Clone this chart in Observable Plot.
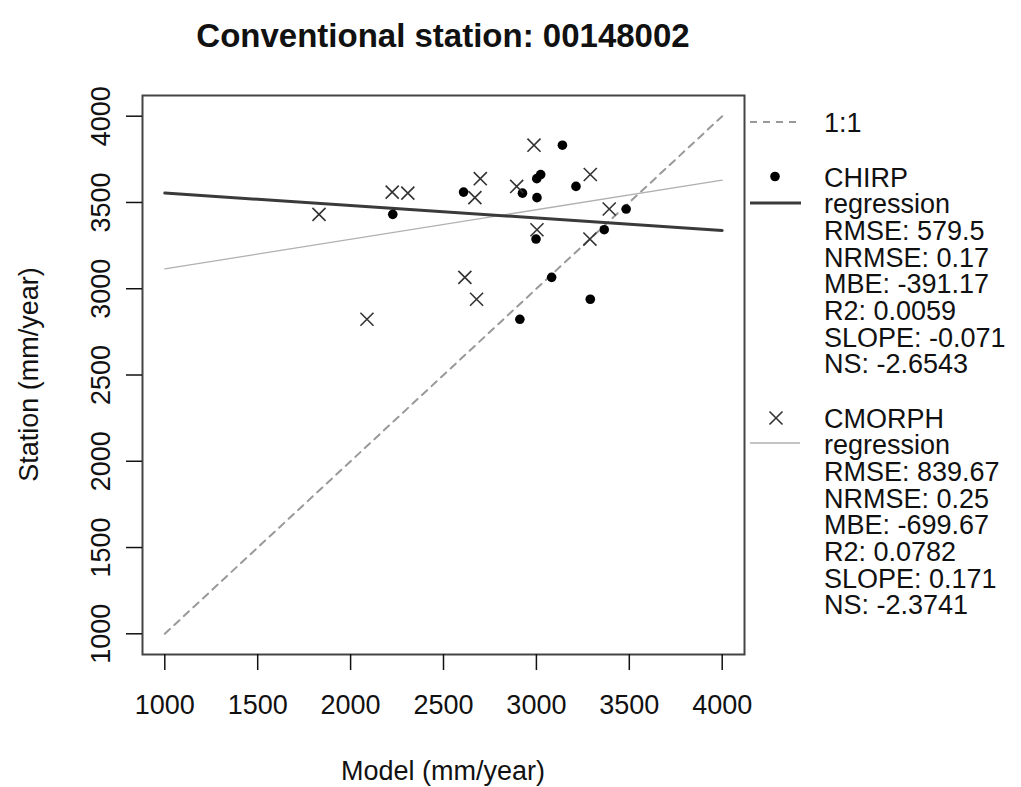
<!DOCTYPE html>
<html><head><meta charset="utf-8">
<script src="https://cdn.jsdelivr.net/npm/d3@7"></script>
<script src="https://cdn.jsdelivr.net/npm/@observablehq/plot@0.6"></script>
<style>
body{margin:0;background:#fff;}
#wrap{position:relative;width:1021px;height:787px;}
</style></head><body><div id="wrap"></div>
<script>
// ---- data ----
const station = [3431, 3560, 3554, 3528, 3638, 3662, 3832, 3593, 3462, 3342, 3288, 3066, 2939, 2823];
const chirp   = [2227, 2608, 2925, 3003, 3002, 3023, 3140, 3213, 3483, 3365, 2998, 3082, 3290, 2911];
const cmorph  = [1830, 2224, 2308, 2669, 2698, 3290, 2987, 2894, 3392, 3003, 3288, 2615, 2678, 2088];
const ticks = [1000, 1500, 2000, 2500, 3000, 3500, 4000];
const title = "Conventional station: 00148002";
const xLabel = "Model (mm/year)";
const yLabel = "Station (mm/year)";
const legendOne = ["1:1"];
const legendChirp = ["CHIRP", "regression", "RMSE: 579.5", "NRMSE: 0.17", "MBE: -391.17", "R2: 0.0059", "SLOPE: -0.071", "NS: -2.6543"];
const legendCmorph = ["CMORPH", "regression", "RMSE: 839.67", "NRMSE: 0.25", "MBE: -699.67", "R2: 0.0782", "SLOPE: 0.171", "NS: -2.3741"];

// ---- derived tables ----
const chirpData = station.map((s, i) => ({x: chirp[i], y: s}));
const cmorphData = station.map((s, i) => ({x: cmorph[i], y: s}));
function fit(xs, ys) {
  const mx = d3.mean(xs), my = d3.mean(ys);
  let sxy = 0, sxx = 0;
  xs.forEach((x, i) => { sxy += (x - mx) * (ys[i] - my); sxx += (x - mx) ** 2; });
  const b = sxy / sxx;
  return x => my + b * (x - mx);
}
const ext = d3.extent(ticks);
const fc = fit(chirp, station), fm = fit(cmorph, station);
const chirpLine = ext.map(x => ({x, y: fc(x)}));
const cmorphLine = ext.map(x => ({x, y: fm(x)}));
const oneLine = ext.map(v => ({x: v, y: v}));

const W = 1021, H = 787;
const FONT = "'Liberation Sans', Arial, Helvetica, sans-serif";
const FS = 27;

const chart = Plot.plot({
  width: W, height: H,
  marginLeft: 142, marginRight: W - 744, marginTop: 95, marginBottom: H - 654,
  style: {fontFamily: FONT, fontSize: FS + "px", color: "#111", background: "#fff"},
  x: {domain: [880, 4120]},
  y: {domain: [880, 4120]},
  marks: [
    Plot.line(oneLine, {x: "x", y: "y", stroke: "#999", strokeWidth: 2, strokeDasharray: "7,6"}),
    Plot.line(cmorphLine, {x: "x", y: "y", stroke: "#b0b0b0", strokeWidth: 1.3}),
    Plot.line(chirpLine, {x: "x", y: "y", stroke: "#3a3a3a", strokeWidth: 3}),
    Plot.dot(chirpData, {x: "x", y: "y", r: 4.8, fill: "#000", stroke: "none"}),
    Plot.dot(cmorphData, {x: "x", y: "y", symbol: "times", r: 6, stroke: "#333", strokeWidth: 1.6}),
    Plot.frame({stroke: "#444", strokeWidth: 2}),
    Plot.axisX({ticks, tickFormat: d => String(d), tickSize: 16, tickPadding: 24, label: null, fontSize: FS, strokeWidth: 1.5}),
    Plot.axisY({ticks, tickFormat: d => String(d), tickSize: 16, tickPadding: 17, tickRotate: -90, label: null, fontSize: FS, strokeWidth: 1.5})
  ]
});
document.getElementById("wrap").appendChild(chart);

const svg = d3.select(chart);
const g = svg.append("g").attr("font-family", FONT).attr("fill", "#111");
g.append("text").attr("x", 443).attr("y", 47).attr("text-anchor", "middle")
  .attr("font-size", 33).attr("font-weight", "bold").text(title);
g.append("text").attr("x", 443).attr("y", 780).attr("text-anchor", "middle")
  .attr("font-size", FS).text(xLabel);
g.append("text").attr("transform", "translate(38,374.5) rotate(-90)").attr("text-anchor", "middle")
  .attr("font-size", FS).text(yLabel);

// legend
const lg = svg.append("g").attr("font-family", FONT).attr("font-size", FS).attr("fill", "#111").attr("text-anchor", "start");
const tx = 824, step = 26.67, bo = 9.6;
lg.append("line").attr("x1", 750).attr("x2", 800).attr("y1", 122).attr("y2", 122)
  .attr("stroke", "#999").attr("stroke-width", 2).attr("stroke-dasharray", "7,6");
legendOne.forEach((t, i) => lg.append("text").attr("x", tx).attr("y", 122 + bo).text(t));
lg.append("circle").attr("cx", 775).attr("cy", 176.5).attr("r", 4.8).attr("fill", "#000");
lg.append("line").attr("x1", 750).attr("x2", 801).attr("y1", 203).attr("y2", 203)
  .attr("stroke", "#3a3a3a").attr("stroke-width", 3);
legendChirp.forEach((t, i) => lg.append("text").attr("x", tx).attr("y", 177 + i * step + bo).text(t));
lg.append("path").attr("d", "M769.5,411.5L782.5,424.5M769.5,424.5L782.5,411.5")
  .attr("stroke", "#333").attr("stroke-width", 1.6);
lg.append("line").attr("x1", 750).attr("x2", 800).attr("y1", 443).attr("y2", 443)
  .attr("stroke", "#b0b0b0").attr("stroke-width", 1.3);
legendCmorph.forEach((t, i) => lg.append("text").attr("x", tx).attr("y", 418 + i * step + bo).text(t));
</script></body></html>
